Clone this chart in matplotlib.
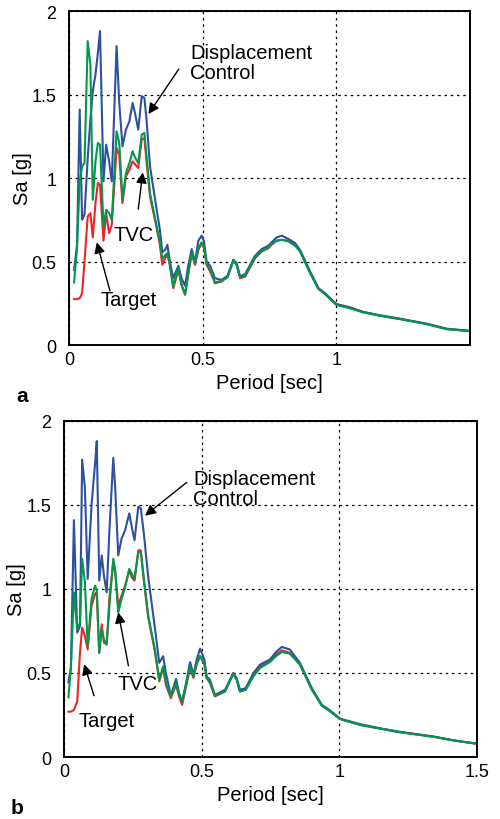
import numpy as np
import matplotlib
matplotlib.use("Agg")
import matplotlib.pyplot as plt

plt.rcParams['font.family'] = ['Liberation Sans', 'DejaVu Sans']

# ---- panel a ----
period_a = [0.019, 0.030, 0.040, 0.049, 0.058, 0.070, 0.080, 0.089, 0.099, 0.108,
            0.116, 0.129, 0.139, 0.150, 0.160, 0.178, 0.188, 0.200, 0.213, 0.226,
            0.238, 0.248, 0.259, 0.272, 0.282, 0.290, 0.303, 0.328, 0.340, 0.349,
            0.360, 0.368, 0.378, 0.390, 0.409, 0.421, 0.434, 0.446, 0.459, 0.471,
            0.484, 0.496, 0.505, 0.515, 0.528, 0.546, 0.571, 0.593, 0.615, 0.627,
            0.640, 0.659, 0.696, 0.721, 0.746, 0.758, 0.777, 0.796, 0.821, 0.846,
            0.864, 0.902, 0.933, 0.958, 1.000, 1.051, 1.101, 1.164, 1.238, 1.338,
            1.413, 1.500]
dc_a = [0.45, 0.60, 1.41, 0.75, 0.78, 1.12, 1.35, 1.52, 1.62, 1.75,
        1.88, 0.98, 1.20, 1.10, 0.98, 1.79, 1.45, 1.19, 1.29, 1.34,
        1.45, 1.38, 1.29, 1.49, 1.48, 1.35, 1.07, 0.81, 0.69, 0.555,
        0.57, 0.60, 0.495, 0.40, 0.475, 0.40, 0.355, 0.475, 0.575, 0.495,
        0.625, 0.655, 0.62, 0.495, 0.475, 0.40, 0.39, 0.415, 0.51, 0.49,
        0.41, 0.425, 0.535, 0.575, 0.595, 0.615, 0.645, 0.655, 0.635, 0.61,
        0.57, 0.44, 0.34, 0.31, 0.245, 0.225, 0.198, 0.178, 0.158, 0.128,
        0.098, 0.085]
tvc_a = [0.375, 0.58, 0.98, 1.07, 1.09, 1.82, 1.68, 0.87, 1.10, 1.21,
         1.20, 0.71, 0.81, 0.79, 0.75, 1.28, 1.21, 0.87, 1.03, 1.09,
         1.16, 1.12, 1.09, 1.26, 1.27, 1.13, 0.91, 0.71, 0.62, 0.515,
         0.54, 0.55, 0.48, 0.35, 0.465, 0.36, 0.305, 0.43, 0.55, 0.49,
         0.58, 0.615, 0.59, 0.485, 0.455, 0.375, 0.385, 0.405, 0.505, 0.48,
         0.405, 0.415, 0.525, 0.565, 0.585, 0.605, 0.625, 0.63, 0.62, 0.595,
         0.56, 0.43, 0.335, 0.305, 0.24, 0.22, 0.195, 0.175, 0.155, 0.125,
         0.095, 0.083]
target_a = [0.275, 0.275, 0.28, 0.31, 0.50, 0.77, 0.79, 0.645, 0.85, 0.97,
            0.96, 0.625, 0.79, 0.67, 0.72, 1.18, 1.14, 0.85, 1.01, 1.05,
            1.10, 1.08, 1.06, 1.23, 1.24, 1.10, 0.89, 0.70, 0.60, 0.48,
            0.52, 0.55, 0.47, 0.34, 0.45, 0.36, 0.30, 0.42, 0.55, 0.48,
            0.57, 0.61, 0.58, 0.48, 0.44, 0.37, 0.38, 0.41, 0.51, 0.48,
            0.40, 0.41, 0.52, 0.56, 0.58, 0.60, 0.625, 0.63, 0.625, 0.60,
            0.565, 0.435, 0.34, 0.305, 0.245, 0.225, 0.198, 0.176, 0.156, 0.126,
            0.096, 0.084]

# ---- panel b ----
period_b = [0.016, 0.025, 0.036, 0.048, 0.058, 0.066, 0.076, 0.086, 0.100, 0.113,
            0.119, 0.128, 0.137, 0.145, 0.155, 0.165, 0.179, 0.186, 0.197, 0.209,
            0.222, 0.237, 0.246, 0.256, 0.270, 0.279, 0.290, 0.306, 0.330, 0.346,
            0.360, 0.370, 0.388, 0.407, 0.418, 0.429, 0.442, 0.458, 0.470, 0.482,
            0.494, 0.510, 0.518, 0.530, 0.548, 0.585, 0.615, 0.627, 0.639, 0.660,
            0.688, 0.712, 0.748, 0.770, 0.791, 0.820, 0.857, 0.900, 0.936, 0.960,
            1.003, 1.076, 1.150, 1.220, 1.342, 1.420, 1.500]
dc_b = [0.445, 0.53, 1.41, 0.74, 0.78, 1.77, 1.60, 1.06, 1.50, 1.75,
        1.88, 1.05, 1.20, 1.08, 0.98, 1.35, 1.78, 1.60, 1.20, 1.30,
        1.35, 1.45, 1.37, 1.29, 1.49, 1.48, 1.33, 1.07, 0.77, 0.56,
        0.60, 0.50, 0.365, 0.465, 0.38, 0.33, 0.43, 0.565, 0.49, 0.58,
        0.645, 0.58, 0.48, 0.46, 0.37, 0.40, 0.50, 0.47, 0.40, 0.41,
        0.50, 0.55, 0.58, 0.625, 0.655, 0.64, 0.56, 0.41, 0.31, 0.285,
        0.228, 0.195, 0.17, 0.15, 0.122, 0.098, 0.08]
tvc_b = [0.355, 0.53, 0.98, 0.76, 0.80, 1.18, 1.04, 0.66, 0.94, 1.02,
         0.99, 0.62, 0.76, 0.70, 0.67, 0.90, 1.18, 1.11, 0.86, 0.94,
         1.01, 1.12, 1.09, 1.06, 1.22, 1.22, 1.06, 0.84, 0.64, 0.46,
         0.54, 0.44, 0.36, 0.44, 0.37, 0.33, 0.42, 0.54, 0.48, 0.56,
         0.60, 0.56, 0.47, 0.45, 0.365, 0.39, 0.495, 0.46, 0.39, 0.40,
         0.48, 0.53, 0.565, 0.60, 0.625, 0.615, 0.55, 0.40, 0.305, 0.28,
         0.225, 0.19, 0.168, 0.147, 0.12, 0.097, 0.078]
target_b = [0.27, 0.27, 0.28, 0.33, 0.62, 0.77, 0.72, 0.64, 0.90, 0.97,
            0.98, 0.62, 0.79, 0.68, 0.67, 0.95, 1.16, 1.10, 0.90, 0.96,
            1.02, 1.11, 1.07, 1.05, 1.23, 1.23, 1.05, 0.83, 0.63, 0.45,
            0.53, 0.43, 0.35, 0.43, 0.36, 0.31, 0.41, 0.53, 0.47, 0.55,
            0.60, 0.55, 0.47, 0.44, 0.36, 0.39, 0.50, 0.46, 0.39, 0.40,
            0.49, 0.54, 0.57, 0.61, 0.635, 0.62, 0.55, 0.405, 0.31, 0.28,
            0.226, 0.192, 0.169, 0.148, 0.121, 0.097, 0.079]

RED = '#e8262a'
BLUE = '#2f4f9f'
GREEN = '#00994c'


def draw_panel(ax, period, target, tvc, dc, xticks, notes, letter):
    ax.plot(period, target, color=RED, lw=1.5)
    ax.plot(period, dc, color=BLUE, lw=1.5)
    ax.plot(period, tvc, color=GREEN, lw=1.5)

    ax.set_xlim(0, 1.5)
    ax.set_ylim(0, 2)
    ax.set_xticks(xticks)
    ax.set_xticklabels([f'{t:g}' for t in xticks])
    ax.set_yticks([0, 0.5, 1, 1.5, 2])
    ax.set_yticklabels(['0', '0.5', '1', '1.5', '2'])
    ax.tick_params(axis='x', direction='in', length=0, labelsize=13, pad=4)
    ax.tick_params(axis='y', direction='in', length=0, labelsize=13, pad=9)
    ax.grid(True, color='black', linestyle=(0, (2, 3)), linewidth=0.9)
    for s in ax.spines.values():
        s.set_linewidth(1.4)

    ax.set_xlabel('Period [sec]', fontsize=14.5, labelpad=4)
    ax.set_ylabel('Sa [g]', fontsize=14.5, labelpad=0)

    # annotations: text, text position, arrow tail, arrow head
    for text, tpos, tail, head in notes:
        ax.text(tpos[0], tpos[1], text, fontsize=14.5, ha='left', va='center',
                linespacing=1.05)
        ax.annotate('', xy=head, xytext=tail,
                    arrowprops=dict(arrowstyle='-|>', color='black', lw=1.0,
                                    mutation_scale=16, shrinkA=0, shrinkB=0))

    ax.text(-0.13, -0.15, letter, transform=ax.transAxes, fontsize=15,
            fontweight='bold', ha='left', va='center')


def main():
    fig = plt.figure(figsize=(5, 8.2), dpi=100)

    ax_a = fig.add_axes([0.138, 0.578, 0.802, 0.4073])
    notes_a = [
        ('Displacement\nControl', (0.453, 1.69), (0.411, 1.653), (0.297, 1.383)),
        ('TVC', (0.168, 0.66), (0.259, 0.814), (0.276, 1.034)),
        ('Target', (0.116, 0.275), (0.153, 0.325), (0.104, 0.615)),
    ]
    draw_panel(ax_a, period_a, target_a, tvc_a, dc_a, [0, 0.5, 1], notes_a, 'a')

    ax_b = fig.add_axes([0.128, 0.0756, 0.826, 0.4098])
    notes_b = [
        ('Displacement\nControl', (0.469, 1.60), (0.446, 1.635), (0.294, 1.436)),
        ('TVC', (0.193, 0.435), (0.234, 0.543), (0.197, 0.861)),
        ('Target', (0.051, 0.22), (0.109, 0.365), (0.073, 0.553)),
    ]
    draw_panel(ax_b, period_b, target_b, tvc_b, dc_b, [0, 0.5, 1, 1.5], notes_b, 'b')

    fig.savefig('out.png', dpi=100)


if __name__ == '__main__':
    main()
